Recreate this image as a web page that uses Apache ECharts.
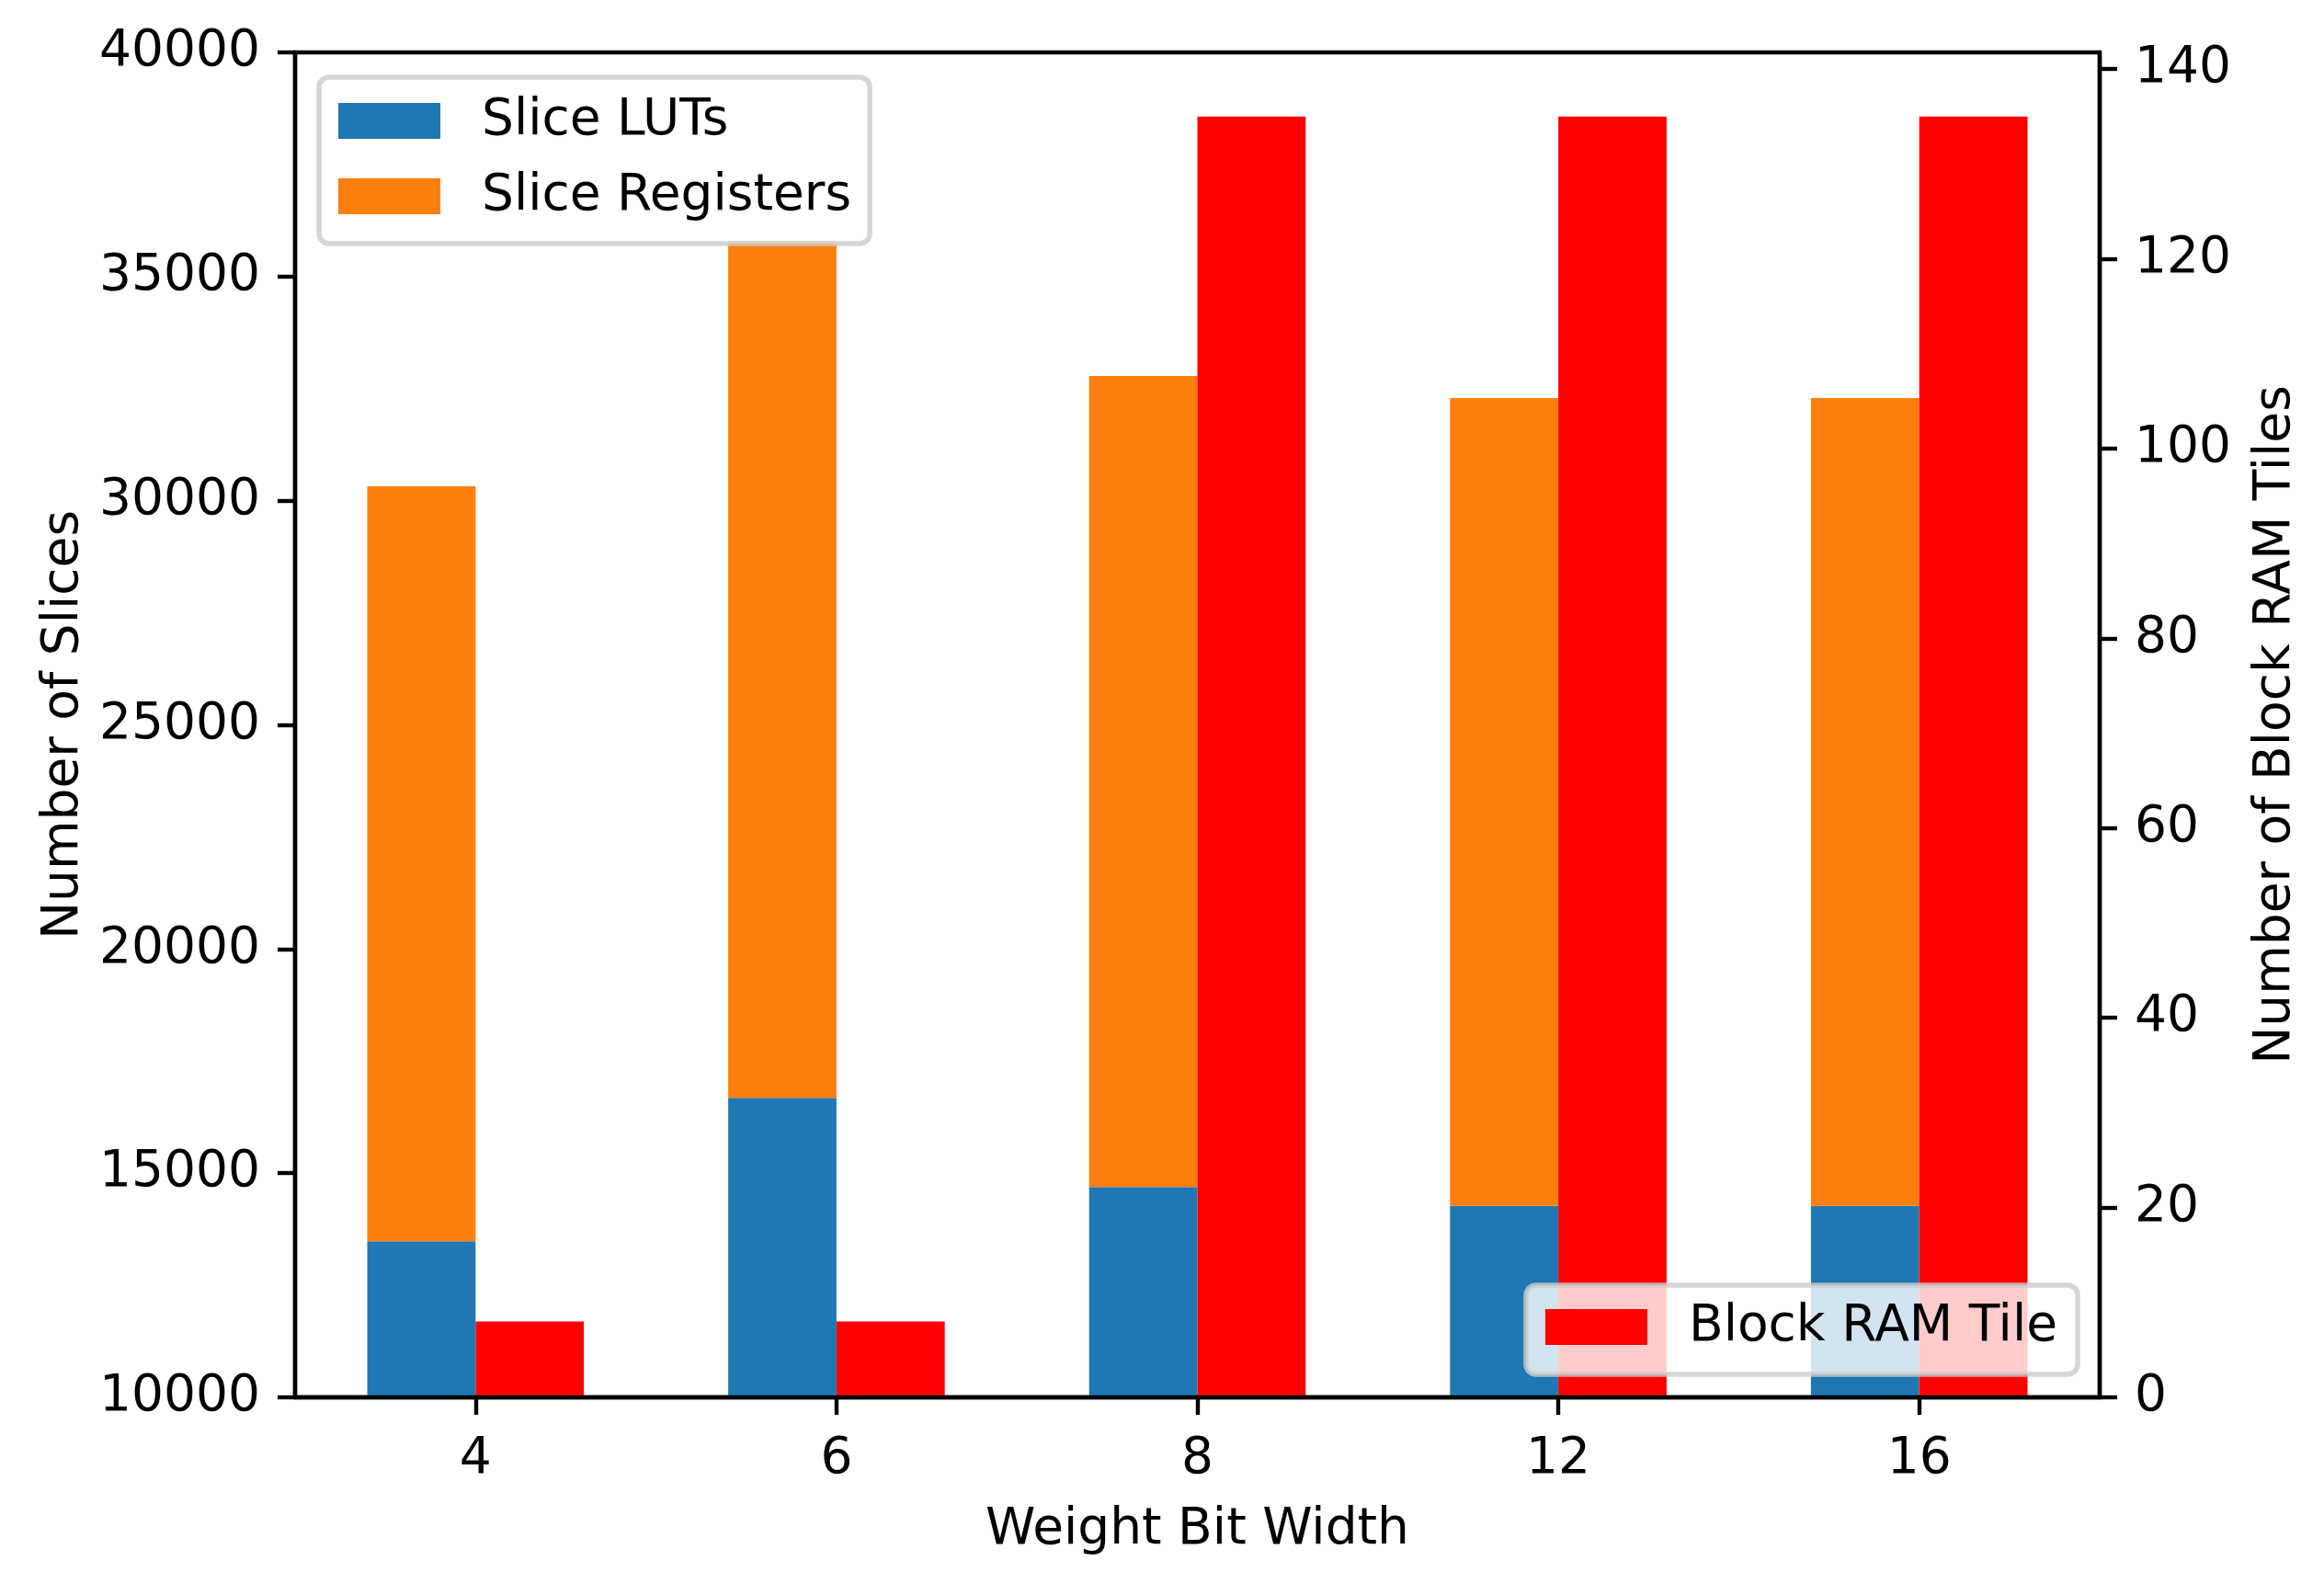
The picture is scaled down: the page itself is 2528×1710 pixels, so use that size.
<!DOCTYPE html>
<html>
<head>
<meta charset="utf-8">
<script src="https://cdn.jsdelivr.net/npm/echarts@6/dist/echarts.min.js"></script>
<style>
html,body{margin:0;padding:0;background:#fff;}
#c{width:2528px;height:1710px;}
</style>
</head>
<body>
<div id="c"></div>
<script>
const categories = ['4', '6', '8', '12', '16'];
const sliceLUTs = [13480, 16680, 14690, 14270, 14270];
const sliceRegisters = [16840, 19120, 18090, 18020, 18020]; // stacked on top of LUTs
const blockRAM = [8, 8, 135, 135, 135];
const leftTicks = [10000, 15000, 20000, 25000, 30000, 35000, 40000];
const rightTicks = [0, 20, 40, 60, 80, 100, 120, 140];

const FONT = 'DejaVu Sans';
const FS = 55;
const LW = 4.4;
const chart = echarts.init(document.getElementById('c'), null, {renderer: 'canvas'});
const txt = {fontFamily: FONT, fontSize: FS, color: '#000'};
const plain = v => String(v);

chart.setOption({
  animation: false,
  backgroundColor: '#fff',
  textStyle: {fontFamily: FONT},
  grid: {left: 321, right: 244, top: 57, bottom: 190, show: true,
         borderColor: '#000', borderWidth: LW, backgroundColor: 'transparent'},
  legend: [
    {
      data: ['Slice LUTs', 'Slice Registers'],
      orient: 'vertical', left: 347, top: 84,
      icon: 'rect', itemWidth: 111, itemHeight: 39, itemGap: 27,
      padding: [20, 20, 24, 21],
      backgroundColor: 'rgba(255,255,255,0.8)',
      borderColor: 'rgba(204,204,204,0.8)', borderWidth: 5.5, borderRadius: 11,
      textStyle: Object.assign({}, txt, {lineHeight: 55, padding: [0, 0, 0, 40]}),
      selectedMode: false
    },
    {
      data: ['Block RAM Tile'],
      orient: 'vertical', right: 268, bottom: 215,
      icon: 'rect', itemWidth: 111, itemHeight: 39,
      padding: [18, 22, 24, 21],
      backgroundColor: 'rgba(255,255,255,0.8)',
      borderColor: 'rgba(204,204,204,0.8)', borderWidth: 5.5, borderRadius: 11,
      textStyle: Object.assign({}, txt, {lineHeight: 55, padding: [0, 0, 0, 40]}),
      selectedMode: false
    }
  ],
  xAxis: {
    type: 'category', data: categories, z: 10,
    name: 'Weight Bit Width', nameLocation: 'middle', nameGap: 117,
    nameTextStyle: txt,
    axisLine: {show: true, lineStyle: {color: '#000', width: LW}},
    axisTick: {show: true, alignWithLabel: true, length: 19, lineStyle: {color: '#000', width: LW}},
    axisLabel: Object.assign({}, txt, {margin: 40}),
    splitLine: {show: false}
  },
  yAxis: [
    {
      type: 'value', min: 10000, max: 40000, interval: 5000, position: 'left', z: 10,
      name: 'Number of Slices', nameLocation: 'middle', nameRotate: 90, nameGap: 224,
      nameTextStyle: txt,
      axisLine: {show: true, lineStyle: {color: '#000', width: LW}},
      axisTick: {show: true, length: 19, customValues: leftTicks, lineStyle: {color: '#000', width: LW}},
      axisLabel: Object.assign({}, txt, {margin: 38, customValues: leftTicks, formatter: plain}),
      splitLine: {show: false}
    },
    {
      type: 'value', min: 0, max: 141.75, interval: 20, position: 'right', z: 10,
      name: 'Number of Block RAM Tiles', nameLocation: 'middle', nameRotate: 90, nameGap: 164,
      nameTextStyle: txt,
      axisLine: {show: true, lineStyle: {color: '#000', width: LW}},
      axisTick: {show: true, length: 19, customValues: rightTicks, lineStyle: {color: '#000', width: LW}},
      axisLabel: Object.assign({}, txt, {margin: 38, customValues: rightTicks, formatter: plain}),
      splitLine: {show: false}
    }
  ],
  series: [
    {name: 'Slice LUTs', type: 'bar', stack: 'slices', yAxisIndex: 0, data: sliceLUTs,
     barWidth: '30%', barGap: '0%', itemStyle: {color: '#1f77b4'}},
    {name: 'Slice Registers', type: 'bar', stack: 'slices', yAxisIndex: 0, data: sliceRegisters,
     barWidth: '30%', barGap: '0%', itemStyle: {color: '#ff7f0e'}},
    {name: 'Block RAM Tile', type: 'bar', yAxisIndex: 1, data: blockRAM,
     barWidth: '30%', barGap: '0%', itemStyle: {color: '#ff0000'}}
  ]
});
</script>
</body>
</html>
